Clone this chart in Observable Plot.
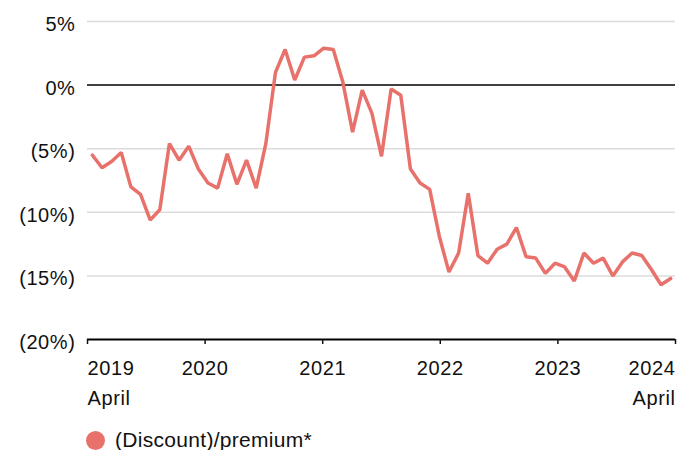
<!DOCTYPE html>
<html>
<head>
<meta charset="utf-8">
<script src="https://cdn.jsdelivr.net/npm/d3@7"></script>
<script src="https://cdn.jsdelivr.net/npm/@observablehq/plot@0.6"></script>
<style>
  body { margin: 0; background: #fff; }
  #wrap { position: relative; width: 681px; height: 450px; font-family: "Liberation Sans", Arial, sans-serif; }
  #legend { position: absolute; left: 86px; top: 428px; display: flex; align-items: center; font-size: 21px; color: #111; letter-spacing: 0.3px; }
  #legend .dot { width: 19px; height: 19px; border-radius: 50%; background: #e8716b; display: inline-block; }
  #legend .lab { margin-left: 10px; }
</style>
</head>
<body>
<div id="wrap"><div id="chart"></div>
<div id="legend"><span class="dot"></span><span class="lab">(Discount)/premium*</span></div>
</div>
<script>
const years = ["2019", "2020", "2021", "2022", "2023", "2024"];
const tickMonth = "April";
const yTicks = [-20, -15, -10, -5, 0, 5];
const seriesName = "(Discount)/premium*";
// Monthly (discount)/premium, %, April 2019 → April 2024
const premium = [
  -5.5, -6.5, -6.0, -5.3, -8.0, -8.6, -10.6, -9.8, -4.6, -5.9,
  -4.8, -6.6, -7.7, -8.1, -5.4, -7.8, -5.9, -8.1, -4.6, 1.0,
  2.8, 0.4, 2.2, 2.3, 2.9, 2.8, 0.2, -3.7, -0.4, -2.2,
  -5.6, -0.3, -0.8, -6.6, -7.7, -8.2, -11.9, -14.7, -13.2, -8.5,
  -13.4, -14.0, -12.9, -12.5, -11.2, -13.5, -13.6, -14.8, -14.0, -14.3,
  -15.4, -13.2, -14.0, -13.6, -15.0, -13.9, -13.2, -13.4, -14.5, -15.7,
  -15.2
];

const n = premium.length;
const data = premium.map((v, i) => ({ i: i + 0.5, v }));
const tickPos = years.map((_, k) => k * n / (years.length - 1));
const color = "#e8716b";
const yFmt = d => d < 0 ? `(${-d}%)` : `${d}%`;
const common = { tickSize: 5, tickPadding: 9, fontSize: 20, lineHeight: 1.5, strokeWidth: 1.5, label: null };

const chart = Plot.plot({
  width: 681,
  height: 410,
  marginLeft: 87,
  marginRight: 6,
  marginTop: 21,
  marginBottom: 71,
  style: { fontFamily: "Liberation Sans, Arial, sans-serif", fontSize: "20px", color: "#111", background: "#fff", letterSpacing: "0.6px" },
  x: { domain: [0, n], label: null },
  y: { domain: [-20, 5], label: null },
  marks: [
    Plot.gridY(yTicks.filter(d => d !== 0 && d !== -20), { stroke: "#dcdcdc", strokeOpacity: 1, strokeWidth: 1.5 }),
    Plot.ruleY([0], { stroke: "#000", strokeWidth: 1.5 }),
    Plot.ruleY([-20], { stroke: "#000", strokeWidth: 2 }),
    Plot.line(data, { x: "i", y: "v", stroke: color, strokeWidth: 3.5, strokeLinejoin: "miter", title: () => seriesName }),
    Plot.axisY(yTicks, { tickSize: 0, tickPadding: 12, tickFormat: yFmt, fontSize: 20, dy: 3, label: null }),
    Plot.axisX([tickPos[0]], { ...common, textAnchor: "start", tickFormat: () => years[0] + "\n" + tickMonth }),
    Plot.axisX(tickPos.slice(1, -1), { ...common, tickFormat: d => years[tickPos.indexOf(d)] }),
    Plot.axisX([tickPos[tickPos.length - 1]], { ...common, textAnchor: "end", tickFormat: () => years[years.length - 1] + "\n" + tickMonth })
  ]
});
document.getElementById("chart").appendChild(chart);
</script>
</body>
</html>
